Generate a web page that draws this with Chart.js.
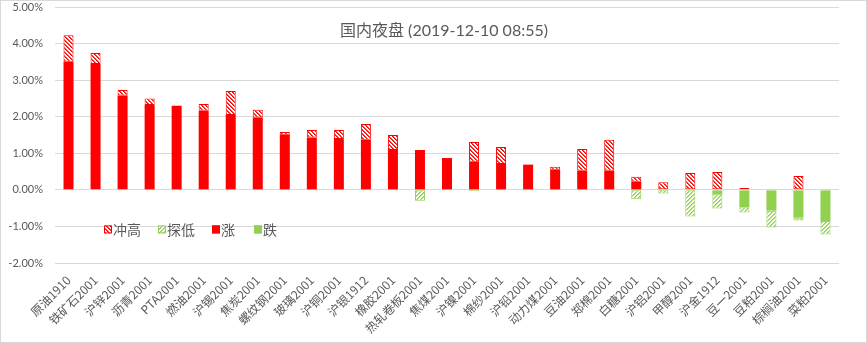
<!DOCTYPE html>
<html>
<head>
<meta charset="utf-8">
<script src="https://cdn.jsdelivr.net/npm/chart.js@4/dist/chart.umd.min.js"></script>
<style>
  html, body { margin: 0; padding: 0; background: #fff; }
  #night-chart { display: block; }
</style>
</head>
<body>
<canvas id="night-chart" width="867" height="343"></canvas>
<script>
// 品种
let categories = ['原油1910','铁矿石2001','沪锌2001','沥青2001','PTA2001','燃油2001','沪锡2001','焦炭2001',
  '螺纹钢2001','玻璃2001','沪铜2001','沪银1912','橡胶2001','热轧卷板2001','焦煤2001','沪镍2001','棉纱2001',
  '沪铅2001','动力煤2001','豆油2001','郑棉2001','白糖2001','沪铝2001','甲醇2001','沪金1912','豆一2001',
  '豆粕2001','棕榈油2001','菜粕2001'];

// 涨 (收盘 > 0), 单位 %
let rise = [3.50, 3.44, 2.58, 2.32, 2.30, 2.16, 2.05, 1.98, 1.51, 1.43, 1.39, 1.37, 1.09, 1.09, 0.87, 0.77, 0.71,
  0.69, 0.55, 0.52, 0.52, 0.22, null, null, null, null, null, null, null];
// 冲高 (最高 - 收盘部分)
let spikeHigh = [0.73, 0.30, 0.15, 0.18, null, 0.19, 0.65, 0.21, 0.07, 0.21, 0.25, 0.43, 0.41, null, null, 0.54, 0.46,
  null, 0.08, 0.60, 0.85, 0.14, 0.21, 0.46, 0.49, 0.05, null, 0.38, null];
// 跌 (收盘 < 0)
let fall = [null, null, null, null, null, null, null, null, null, null, null, null, null, null, null, null, null,
  null, null, null, null, null, null, null, -0.13, -0.48, -0.57, -0.76, -0.85];
// 探低 (最低 - 收盘部分)
let dipLow = [null, null, null, null, null, null, null, null, null, null, null, null, null, -0.30, null, -0.03, null,
  null, null, null, null, -0.26, -0.10, -0.73, -0.38, -0.14, -0.46, -0.08, -0.37];

let yTicks = [-2, -1, 0, 1, 2, 3, 4, 5];

const RED = '#ff0000';
const GREEN = '#92d050';
const GREY_TEXT = '#595959';

//hatch pattern, dir 1 = "\" , -1 = "/"
function makeHatch(color, dir) {
    let size = 4;
    let c = document.createElement('canvas');
    c.width = size; c.height = size;
    let g = c.getContext('2d');
    g.fillStyle = '#ffffff';
    g.fillRect(0, 0, size, size);
    g.fillStyle = color;
    for (let i = 0; i < size; i++) {
        let x = dir > 0 ? i : size - 1 - i;
        g.fillRect(x, i, 1, 1);
        g.globalAlpha = 0.7;
        g.fillRect((x + 1) % size, i, 1, 1);
        g.globalAlpha = 1;
    }
    return g.createPattern(c, 'repeat');
}

const ctx = document.getElementById('night-chart').getContext('2d');
let redHatch = makeHatch(RED, 1);
let greenHatch = makeHatch(GREEN, -1);

//title, legend and outer frame
const decorations = {
    id: 'decorations',
    afterDraw(chart) {
        let c = chart.ctx;
        let area = chart.chartArea;
        let y = chart.scales.y;
        c.save();

        c.strokeStyle = '#d9d9d9';
        c.lineWidth = 1;
        c.strokeRect(0.5, 0.5, chart.width - 1, chart.height - 1);

        c.fillStyle = GREY_TEXT;
        c.font = '16px Lato, "Noto Sans CJK SC"';
        c.textAlign = 'center';
        c.textBaseline = 'middle';
        c.fillText('国内夜盘 (2019-12-10 08:55)', (area.left + area.right) / 2 - 3, 31);

        let items = [
            {label: '冲高', fill: redHatch, stroke: RED},
            {label: '探低', fill: greenHatch, stroke: GREEN},
            {label: '涨', fill: RED, stroke: RED},
            {label: '跌', fill: GREEN, stroke: GREEN}
        ];
        let xs = [104, 158, 212, 254];
        let ly = y.getPixelForValue(-1) + 3;
        c.font = '14px "Noto Sans CJK SC"';
        c.textAlign = 'left';
        items.forEach((item, i) => {
            c.fillStyle = item.fill;
            c.fillRect(xs[i], ly - 4, 8, 8);
            c.strokeStyle = item.stroke;
            c.strokeRect(xs[i] + 0.5, ly - 3.5, 7, 7);
            c.fillStyle = GREY_TEXT;
            c.fillText(item.label, xs[i] + 9, ly);
        });
        c.restore();
    }
};

let barCommon = {
    categoryPercentage: 1,
    barPercentage: 0.37,
    borderWidth: 1,
    borderSkipped: false
};

let myChart = new Chart(ctx, {
    type: 'bar',
    data: {
        labels: categories,
        datasets: [
            Object.assign({label: '涨', data: rise, backgroundColor: RED, borderColor: RED}, barCommon, {borderWidth: 0}),
            Object.assign({label: '冲高', data: spikeHigh, backgroundColor: redHatch, borderColor: RED}, barCommon),
            Object.assign({label: '跌', data: fall, backgroundColor: GREEN, borderColor: GREEN}, barCommon, {borderWidth: 0}),
            Object.assign({label: '探低', data: dipLow, backgroundColor: greenHatch, borderColor: GREEN}, barCommon)
        ]
    },
    options: {
        responsive: false,
        animation: false,
        layout: { padding: { left: 0, right: 28, top: 0, bottom: 0 } },
        plugins: {
            legend: { display: false },
            title: { display: false },
            tooltip: { enabled: false }
        },
        scales: {
            x: {
                stacked: true,
                grid: { display: false },
                border: { display: false },
                ticks: {
                    autoSkip: false,
                    minRotation: 45,
                    maxRotation: 45,
                    padding: 2,
                    color: GREY_TEXT,
                    font: { family: '"Noto Sans CJK SC"', size: 12 }
                },
                afterFit(scale) { scale.height = 80; scale.paddingTop = 0; }
            },
            y: {
                stacked: true,
                min: -2,
                max: 5,
                afterBuildTicks(scale) { scale.ticks = yTicks.map(v => ({value: v})); },
                grid: { color: '#d9d9d9', drawTicks: false },
                border: { display: false },
                ticks: {
                    padding: 12,
                    color: GREY_TEXT,
                    font: { family: 'Lato', size: 11 },
                    callback: v => v.toFixed(2) + '%'
                },
                afterFit(scale) { scale.width = 55; scale.paddingTop = 7; scale.paddingBottom = 0; }
            }
        }
    },
    plugins: [decorations]
});
</script>
</body>
</html>
